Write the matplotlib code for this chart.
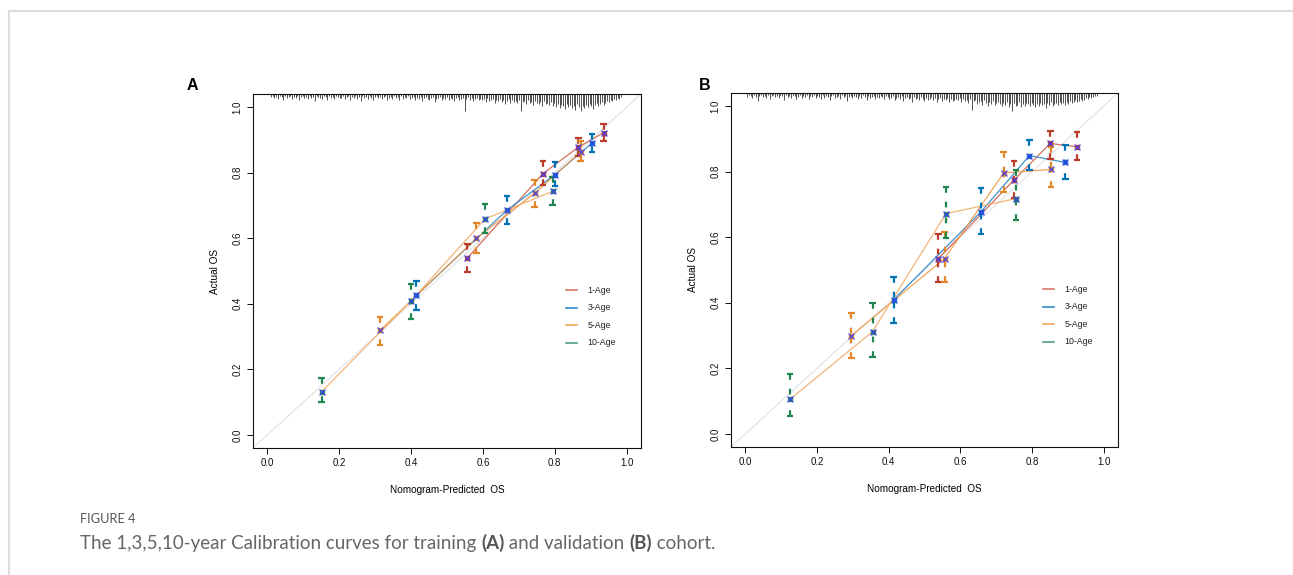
import matplotlib
matplotlib.use("Agg")
import matplotlib.pyplot as plt
import numpy as np

plt.rcParams['font.family'] = ['Liberation Sans', 'DejaVu Sans']

# colours (NEJM-like palette used in the figure)
col_1 = "#BC3C29"
col_3 = "#0072B5"
col_5 = "#E18727"
col_10 = "#20854E"
line_cols = ["#D0604E", "#2C86C8", "#EE9A45", "#F2AC6A"]
legend_cols = ["#D9776A", "#2E8BCB", "#F1A660", "#4FA07A"]
labels = ["1-Age", "3-Age", "5-Age", "10-Age"]

# ---- panel A (training) ----
a1_x = [0.557, 0.767, 0.866, 0.936]
a1_y = [0.540, 0.797, 0.878, 0.922]
a1_lo = [0.496, 0.763, 0.850, 0.896]
a1_hi = [0.583, 0.836, 0.906, 0.947]

a3_x = [0.415, 0.667, 0.801, 0.903]
a3_y = [0.426, 0.686, 0.794, 0.890]
a3_lo = [0.382, 0.644, 0.759, 0.863]
a3_hi = [0.469, 0.728, 0.832, 0.918]

a5_x = [0.314, 0.582, 0.744, 0.872]
a5_y = [0.319, 0.600, 0.737, 0.863]
a5_lo = [0.274, 0.555, 0.696, 0.835]
a5_hi = [0.359, 0.647, 0.779, 0.898]

a10_x = [0.151, 0.400, 0.606, 0.794]
a10_y = [0.132, 0.409, 0.659, 0.743]
a10_lo = [0.099, 0.355, 0.616, 0.700]
a10_hi = [0.173, 0.461, 0.705, 0.788]

# ---- panel B (validation) ----
b1_x = [0.539, 0.750, 0.851, 0.926]
b1_y = [0.535, 0.775, 0.886, 0.876]
b1_lo = [0.464, 0.720, 0.838, 0.835]
b1_hi = [0.611, 0.834, 0.925, 0.922]

b3_x = [0.414, 0.658, 0.793, 0.893]
b3_y = [0.409, 0.678, 0.849, 0.828]
b3_lo = [0.339, 0.611, 0.805, 0.777]
b3_hi = [0.480, 0.749, 0.896, 0.881]

b5_x = [0.296, 0.556, 0.721, 0.853]
b5_y = [0.300, 0.535, 0.796, 0.807]
b5_lo = [0.231, 0.464, 0.738, 0.754]
b5_hi = [0.368, 0.617, 0.859, 0.875]

b10_x = [0.125, 0.355, 0.560, 0.756]
b10_y = [0.106, 0.312, 0.672, 0.718]
b10_lo = [0.056, 0.235, 0.599, 0.654]
b10_hi = [0.182, 0.400, 0.754, 0.805]

# distribution of predicted risk drawn at the top (relative heights)
rug_a = [3, 2, 4, 3, 5, 2, 3, 6, 2, 4, 3, 2, 5, 3, 4, 2, 6, 3, 2, 4,
         3, 5, 2, 4, 3, 7, 2, 3, 4, 5, 2, 3, 6, 2, 4, 3, 5, 2, 3, 4,
         4, 2, 5, 3, 2, 6, 3, 4, 2, 5, 3, 7, 2, 4, 3, 5, 2, 4, 6, 3,
         2, 4, 3, 5, 3, 2, 6, 4, 3, 5, 2, 4, 3, 6, 2, 5, 3, 4, 2, 5,
         4, 3, 6, 4, 5, 3, 7, 4, 3, 5, 6, 4, 3, 8, 5, 4, 3, 6, 4, 5,
         3, 6, 4, 5, 7, 4, 3, 6, 5, 4, 17, 5, 3, 6, 4, 7, 5, 4, 6, 5,
         6, 5, 8, 4, 7, 6, 5, 9, 6, 7, 5, 8, 6, 10, 7, 5, 9, 6, 8, 7,
         9, 6, 17, 8, 7, 10, 6, 9, 8, 11, 7, 9, 10, 8, 12, 7, 10, 9, 11, 8,
         12, 9, 13, 10, 14, 11, 12, 15, 10, 13, 11, 14, 12, 16, 10, 13, 17, 12, 14, 11,
         13, 10, 12, 15, 11, 9, 12, 10, 8, 11, 9, 7, 8, 6, 7, 5, 6, 4, 5, 3]
rug_b = [4, 2, 3, 5, 2, 4, 8, 3, 2, 4, 3, 5, 2, 6, 3, 2, 4, 3, 5, 2,
         3, 7, 2, 4, 3, 5, 2, 3, 6, 4, 2, 5, 3, 4, 2, 6, 3, 4, 2, 5,
         3, 4, 6, 2, 5, 3, 4, 7, 3, 2, 5, 4, 3, 6, 2, 4, 3, 8, 4, 3,
         5, 3, 4, 6, 3, 5, 2, 4, 7, 3, 5, 4, 3, 6, 4, 5, 3, 4, 6, 3,
         4, 6, 5, 3, 7, 5, 4, 6, 3, 8, 5, 4, 6, 5, 9, 4, 6, 5, 7, 4,
         6, 8, 5, 7, 6, 4, 7, 5, 9, 6, 5, 8, 6, 7, 5, 9, 6, 8, 7, 6,
         7, 5, 9, 6, 8, 7, 10, 6, 17, 8, 7, 11, 9, 8, 12, 7, 10, 13, 9, 11,
         8, 12, 10, 9, 11, 13, 10, 12, 9, 14, 11, 18, 10, 13, 12, 9, 14, 11, 13, 10,
         11, 13, 10, 12, 14, 11, 13, 10, 12, 11, 15, 10, 12, 9, 13, 11, 10, 12, 9, 11,
         10, 12, 9, 11, 8, 10, 9, 7, 9, 8, 6, 8, 7, 5, 6, 4, 5, 4, 3, 3]
rug_a_range = (0.01, 0.985)
rug_b_range = (0.005, 0.98)


def errbars(ax, x, lo, hi, mid, color):
    # dashed bars drawn from each end towards the point so that both ends show a stem
    for xi, l, h, m in zip(x, lo, hi, mid):
        ax.plot([xi, xi], [h, m], color=color, lw=1.6, ls=(0, (2.6, 4)), solid_capstyle='butt', zorder=3)
        ax.plot([xi, xi], [l, m], color=color, lw=1.6, ls=(0, (2.6, 4)), solid_capstyle='butt', zorder=3)
        ax.plot([xi - 0.009, xi + 0.009], [h, h], color=color, lw=1.6, zorder=3, solid_capstyle='butt')
        ax.plot([xi - 0.009, xi + 0.009], [l, l], color=color, lw=1.6, zorder=3, solid_capstyle='butt')


def panel(ax, series, rug, rug_range):
    ax.set_xlim(-0.04, 1.04)
    ax.set_ylim(-0.04, 1.04)
    ax.axline((0, 0), (1, 1), color="#E4E4E4", lw=0.9, zorder=1)

    # risk distribution at the top
    rx = np.linspace(rug_range[0], rug_range[1], len(rug))
    rh = np.array(rug) / 354.0
    ax.vlines(rx, 1 - rh, 1, transform=ax.get_xaxis_transform(), color="#333333", lw=0.6, zorder=2)

    err_cols = [col_1, col_3, col_5, col_10]
    for (x, y, lo, hi), lc, ec in zip(series, line_cols, err_cols):
        ax.plot(x, y, color=lc, lw=0.9, alpha=0.9, zorder=2)
        errbars(ax, x, lo, hi, y, ec)
        ax.plot(x, y, ls='none', marker='s', ms=3.0, color=ec, alpha=0.85, zorder=4)
        ax.plot(x, y, ls='none', marker='x', ms=4.2, mew=1.0, color="#3A3AF5", alpha=0.8, zorder=5)

    # legend
    for i, (lab, c) in enumerate(zip(labels, legend_cols)):
        yy = 0.445 - i * 0.049
        ax.plot([0.806, 0.835], [yy, yy], color=c, lw=1.2, transform=ax.transAxes)
        ax.text(0.862, yy, lab, transform=ax.transAxes, fontsize=6.3, va='center', ha='left', color="#222222")

    ax.set_xticks([0.0, 0.2, 0.4, 0.6, 0.8, 1.0])
    ax.set_yticks([0.0, 0.2, 0.4, 0.6, 0.8, 1.0])
    ax.set_xticklabels(["0.0", "0.2", "0.4", "0.6", "0.8", "1.0"])
    ax.set_yticklabels(["0.0", "0.2", "0.4", "0.6", "0.8", "1.0"])
    ax.tick_params(direction='out', length=4.5, width=0.7, labelsize=7, pad=3, colors="#111111")
    for lbl in ax.get_yticklabels():
        lbl.set_rotation(90)
        lbl.set_va('center')
    ax.set_xlabel("Nomogram-Predicted  OS", fontsize=7.2, labelpad=12)
    ax.set_ylabel("Actual OS", fontsize=7.2, labelpad=9)
    for s in ax.spines.values():
        s.set_linewidth(0.8)
        s.set_color("#111111")


fig = plt.figure(figsize=(12.93, 5.75), dpi=100)
ax_a = fig.add_axes([253 / 1293, 1 - 448 / 575, 388 / 1293, 354 / 575])
ax_b = fig.add_axes([731 / 1293, 1 - 447 / 575, 387 / 1293, 354 / 575])

panel(ax_a, [(a1_x, a1_y, a1_lo, a1_hi), (a3_x, a3_y, a3_lo, a3_hi),
             (a5_x, a5_y, a5_lo, a5_hi), (a10_x, a10_y, a10_lo, a10_hi)],
      rug_a, rug_a_range)
panel(ax_b, [(b1_x, b1_y, b1_lo, b1_hi), (b3_x, b3_y, b3_lo, b3_hi),
             (b5_x, b5_y, b5_lo, b5_hi), (b10_x, b10_y, b10_lo, b10_hi)],
      rug_b, rug_b_range)

fig.text(192 / 1293, 1 - 86 / 575, "A", fontsize=11.5, fontweight='bold', ha='center', va='center')
fig.text(705 / 1293, 1 - 86 / 575, "B", fontsize=11.5, fontweight='bold', ha='center', va='center')

# page frame
fig.add_artist(plt.Line2D([9 / 1293, 1], [1 - 11 / 575, 1 - 11 / 575], color="#DDDDDD", lw=1.5))
fig.add_artist(plt.Line2D([9 / 1293, 9 / 1293], [0, 1 - 11 / 575], color="#DDDDDD", lw=1.5))

# caption
cap_font = ['Lato', 'DejaVu Sans']
fig.text(80 / 1293, 1 - 519 / 575, "FIGURE 4", fontsize=9.3, family=cap_font,
         color="#555555", va='center', ha='left')
pieces = [("The 1,3,5,10-year Calibration curves for training ", 'normal'),
          ("(A)", 'bold'), (" and validation ", 'normal'), ("(B)", 'bold'), (" cohort.", 'normal')]
renderer = fig.canvas.get_renderer()
xpos = 80.0
for txt, w in pieces:
    t = fig.text(xpos / 1293, 1 - 549 / 575, txt, fontsize=13.5, family=cap_font, fontweight=w,
                 color="#666666" if w == 'normal' else "#555555", va='baseline', ha='left')
    xpos += t.get_window_extent(renderer).width

fig.savefig("out.png", dpi=100)
